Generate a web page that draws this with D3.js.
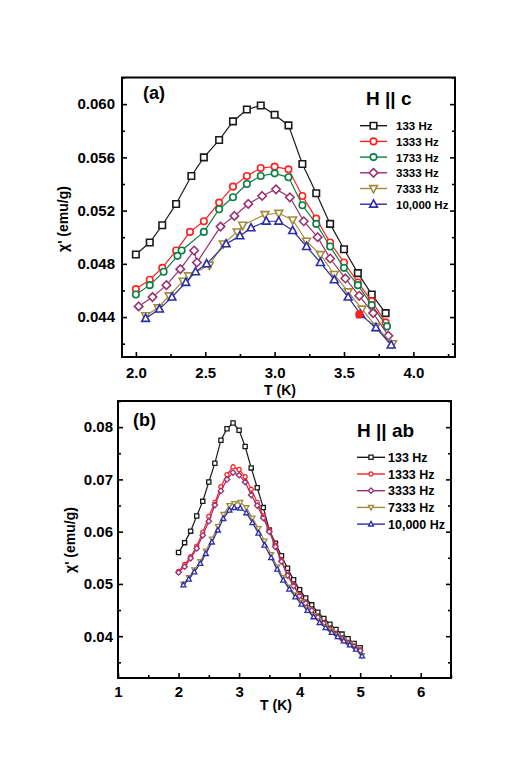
<!DOCTYPE html>
<html><head><meta charset="utf-8">
<script src="https://cdn.jsdelivr.net/npm/d3@7"></script>
<style>body{margin:0;background:#fff}svg text{font-family:"Liberation Sans",Arial,sans-serif;font-weight:bold;fill:#000}</style>
</head><body>
<svg id="c" width="529" height="769"></svg>
<script>
// ---------- Panel (a): H || c ----------
const aT133   = [2.0,2.1,2.19,2.29,2.4,2.49,2.6,2.7,2.8,2.9,3.0,3.1,3.2,3.3,3.4,3.5,3.6,3.7,3.8];
const aX133   = [0.0487,0.0496,0.0509,0.0525,0.0546,0.0560,0.0573,0.0587,0.0596,0.0599,0.0592,0.0584,0.0555,0.0533,0.0510,0.0491,0.0473,0.0457,0.0443];
const aT1333  = [2.0,2.1,2.19,2.29,2.39,2.49,2.6,2.7,2.8,2.9,3.0,3.1,3.2,3.3,3.4,3.5,3.6,3.7,3.8];
const aX1333  = [0.0461,0.0468,0.0477,0.0490,0.0504,0.0512,0.0526,0.0538,0.0546,0.0552,0.0553,0.0551,0.0531,0.0514,0.0496,0.0481,0.0466,0.0452,0.0436];
const aStrayT = [3.61];
const aStrayX = [0.0442];
const aT1733  = [2.0,2.1,2.2,2.3,2.33,2.49,2.6,2.7,2.8,2.9,3.0,3.1,3.2,3.3,3.4,3.5,3.6,3.7,3.81];
const aX1733  = [0.0457,0.0464,0.0474,0.0486,0.0490,0.0504,0.0521,0.0530,0.0540,0.0546,0.0548,0.0545,0.0524,0.0510,0.0493,0.0477,0.0464,0.0449,0.0433];
const aT3333  = [2.02,2.12,2.22,2.32,2.42,2.44,2.61,2.71,2.81,2.91,3.01,3.11,3.21,3.31,3.40,3.51,3.61,3.71,3.82];
const aX3333  = [0.0448,0.0455,0.0464,0.0476,0.0490,0.0481,0.0508,0.0516,0.0525,0.0531,0.0536,0.0530,0.0512,0.0500,0.0484,0.0469,0.0456,0.0443,0.0426];
const aT7333  = [2.07,2.16,2.24,2.34,2.38,2.53,2.63,2.73,2.77,2.93,3.03,3.13,3.23,3.33,3.43,3.53,3.63,3.73,3.85];
const aX7333  = [0.0441,0.0447,0.0456,0.0467,0.0471,0.0479,0.0495,0.0504,0.0509,0.0517,0.0518,0.0513,0.0497,0.0487,0.0472,0.0459,0.0446,0.0433,0.0420];
const aT10000 = [2.07,2.17,2.26,2.36,2.43,2.51,2.65,2.75,2.83,2.94,3.03,3.13,3.23,3.33,3.43,3.53,3.62,3.73,3.84];
const aX10000 = [0.0439,0.0446,0.0455,0.0466,0.0474,0.0480,0.0495,0.0501,0.0507,0.0512,0.0512,0.0505,0.0493,0.0481,0.0468,0.0455,0.0442,0.0432,0.0419];
const aXTicks = [2.0,2.5,3.0,3.5,4.0];
const aYTicks = [0.044,0.048,0.052,0.056,0.060];

// ---------- Panel (b): H || ab ----------
const bT      = [2.0,2.1,2.2,2.3,2.4,2.5,2.6,2.7,2.8,2.9,3.0,3.1,3.2,3.3,3.4,3.5,3.6,3.7,3.8,3.9,4.0,4.1,4.2,4.3,4.4,4.5,4.6,4.7,4.8,4.9,5.0];
const bX133   = [0.0560,0.0579,0.0601,0.0630,0.0658,0.0695,0.0731,0.0775,0.0797,0.0808,0.0794,0.0763,0.0722,0.0684,0.0646,0.0603,0.0578,0.0554,0.0530,0.0508,0.0489,0.0473,0.0460,0.0446,0.0434,0.0423,0.0413,0.0404,0.0395,0.0386,0.0378];
const bX1333  = [0.0524,0.0537,0.0552,0.0572,0.0599,0.0629,0.0656,0.0686,0.0709,0.0724,0.0719,0.0705,0.0681,0.0656,0.0630,0.0603,0.0574,0.0545,0.0518,0.0498,0.0479,0.0464,0.0450,0.0437,0.0425,0.0414,0.0405,0.0396,0.0388,0.0381,0.0374];
const bX3333  = [0.0522,0.0533,0.0549,0.0568,0.0593,0.0620,0.0651,0.0678,0.0700,0.0713,0.0708,0.0695,0.0670,0.0650,0.0626,0.0600,0.0571,0.0543,0.0516,0.0496,0.0477,0.0463,0.0449,0.0436,0.0424,0.0413,0.0404,0.0395,0.0387,0.0380,0.0372];
const bT2     = [2.08,2.17,2.26,2.36,2.45,2.55,2.65,2.74,2.84,2.92,3.02,3.12,3.22,3.32,3.42,3.53,3.63,3.73,3.83,3.93,4.03,4.13,4.23,4.33,4.43,4.53,4.63,4.73,4.83,4.93,5.03];
const bX7333  = [0.0500,0.0512,0.0527,0.0543,0.0563,0.0586,0.0610,0.0633,0.0650,0.0654,0.0656,0.0646,0.0626,0.0606,0.0582,0.0556,0.0533,0.0512,0.0494,0.0479,0.0465,0.0452,0.0440,0.0429,0.0419,0.0410,0.0401,0.0393,0.0385,0.0377,0.0363];
const bX10000 = [0.0498,0.0509,0.0523,0.0539,0.0558,0.0580,0.0603,0.0625,0.0641,0.0646,0.0645,0.0636,0.0617,0.0597,0.0574,0.0550,0.0528,0.0507,0.0490,0.0475,0.0461,0.0449,0.0437,0.0426,0.0416,0.0407,0.0399,0.0391,0.0383,0.0375,0.0362];
const bXTicks = [1,2,3,4,5,6];
const bYTicks = [0.04,0.05,0.06,0.07,0.08];

const C = {k:"#1a1a1a", r:"#ff2020", g:"#0b8043", p:"#9a3070", o:"#a08c3a", b:"#2c2ca8"};
const svg = d3.select("#c");

function zip(t, v){ return t.map((d,i)=>({t:d, v:v[i]})); }

function markerPath(shape, s){
  const h = s/2;
  if(shape==="square") return `M${-h},${-h}H${h}V${h}H${-h}Z`;
  if(shape==="circle") return d3.symbol(d3.symbolCircle, Math.PI*h*h)();
  if(shape==="diamond"){ const d=h*1.3; return `M0,${-d}L${d},0L0,${d}L${-d},0Z`; }
  if(shape==="up"){ const d=h*1.2; return `M0,${-d*1.1}L${d},${d*0.75}L${-d},${d*0.75}Z`; }
  if(shape==="down"){ const d=h*1.2; return `M0,${d*1.1}L${d},${-d*0.75}L${-d},${-d*0.75}Z`; }
}

function panel(cfg){
  const g = svg.append("g");
  const x = d3.scaleLinear().domain(cfg.xd).range(cfg.xr);
  const y = d3.scaleLinear().domain(cfg.yd).range(cfg.yr);
  const [x0,x1] = cfg.xr, [y0,y1] = [cfg.yr[1], cfg.yr[0]];
  g.append("g").attr("transform",`translate(0,${cfg.yr[0]})`)
    .call(d3.axisBottom(x).tickValues(cfg.xt).tickSize(-5).tickPadding(cfg.xpad).tickFormat(cfg.xf));
  g.append("g").attr("transform",`translate(0,${cfg.yr[0]})`)
    .call(d3.axisBottom(x).tickValues(cfg.xm).tickSize(-3).tickFormat(""));
  g.append("g").attr("transform",`translate(${x0},0)`)
    .call(d3.axisLeft(y).tickValues(cfg.yt).tickSize(-5).tickPadding(cfg.ypad).tickFormat(cfg.yf));
  g.append("g").attr("transform",`translate(${x0},0)`)
    .call(d3.axisLeft(y).tickValues(cfg.ym).tickSize(-3).tickFormat(""));
  g.append("g").attr("transform",`translate(${x1},0)`)
    .call(d3.axisRight(y).tickValues(cfg.yt).tickSize(-5).tickFormat(""));
  g.append("g").attr("transform",`translate(${x1},0)`)
    .call(d3.axisRight(y).tickValues(cfg.ym).tickSize(-3).tickFormat(""));
  g.selectAll(".domain").remove();
  g.selectAll(".tick line").attr("stroke","#000").attr("stroke-width",1.6);
  g.selectAll(".tick text").attr("font-size",15).attr("font-family",'"Liberation Sans",Arial,sans-serif').attr("font-weight","bold").attr("fill","#000");
  g.append("rect").attr("x",x0).attr("y",y0).attr("width",x1-x0).attr("height",y1-y0)
    .attr("fill","none").attr("stroke","#000").attr("stroke-width",2);

  const line = d3.line().x(d=>x(d.t)).y(d=>y(d.v));
  cfg.series.forEach(s=>{
    const data = zip(s.t, s.v);
    if(!s.noLine) g.append("path").datum(data).attr("d",line).attr("fill","none")
      .attr("stroke",s.c).attr("stroke-width",1.2);
    g.selectAll(null).data(data).enter().append("path")
      .attr("transform",d=>`translate(${x(d.t)},${y(d.v)})`)
      .attr("d",markerPath(s.m, cfg.ms))
      .attr("fill", s.fill || "#fff").attr("stroke",s.c).attr("stroke-width",cfg.mw);
  });

  cfg.series.filter(s=>s.label).forEach((s,i)=>{
    const yy = cfg.lg.y + i*cfg.lg.dy;
    g.append("line").attr("x1",cfg.lg.x1).attr("x2",cfg.lg.x2).attr("y1",yy).attr("y2",yy)
      .attr("stroke",s.c).attr("stroke-width",1.4);
    g.append("path").attr("transform",`translate(${(cfg.lg.x1+cfg.lg.x2)/2},${yy})`)
      .attr("d",markerPath(s.m, cfg.ms)).attr("fill","#fff").attr("stroke",s.c).attr("stroke-width",cfg.mw);
    g.append("text").attr("x",cfg.lg.tx).attr("y",yy+4.5).attr("font-size",cfg.lg.fs).text(s.label);
  });
  g.append("text").attr("x",cfg.tag.x).attr("y",cfg.tag.y).attr("font-size",18).text(cfg.tag.t);
  g.append("text").attr("x",cfg.hd.x).attr("y",cfg.hd.y).attr("font-size",19).text(cfg.hd.t);
  g.append("text").attr("x",cfg.xl.x).attr("y",cfg.xl.y).attr("text-anchor","middle").attr("font-size",14).text("T (K)");
  g.append("text").attr("transform",`translate(${cfg.yl.x},${cfg.yl.y}) rotate(-90)`)
    .attr("text-anchor","middle").attr("font-size",14).text("\u03C7' (emu/g)");
}

panel({
  xd:[1.9,4.3], xr:[122,455], yd:[0.041,0.062], yr:[357,77.5],
  xt:aXTicks, xm:[2.25,2.75,3.25,3.75,4.25], yt:aYTicks, ym:[0.042,0.046,0.050,0.054,0.058,0.062],
  xf:d3.format(".1f"), yf:d3.format(".3f"), xpad:10, ypad:7, ms:6.5, mw:1.6,
  series:[
    {t:aT133, v:aX133, c:C.k, m:"square", label:"133 Hz"},
    {t:aT1333, v:aX1333, c:C.r, m:"circle", label:"1333 Hz"},
    {t:aT1733, v:aX1733, c:C.g, m:"circle", label:"1733 Hz"},
    {t:aT3333, v:aX3333, c:C.p, m:"diamond", label:"3333 Hz"},
    {t:aT7333, v:aX7333, c:C.o, m:"down", label:"7333 Hz"},
    {t:aT10000, v:aX10000, c:C.b, m:"up", label:"10,000 Hz"},
    {t:aStrayT, v:aStrayX, c:C.r, m:"circle", noLine:true, fill:C.r}
  ],
  lg:{x1:360, x2:387, tx:396, y:125.7, dy:15.7, fs:11.5},
  tag:{x:143, y:99, t:"(a)"}, hd:{x:366, y:104.5, t:"H || c"},
  xl:{x:280, y:395}, yl:{x:68, y:219}
});

panel({
  xd:[1,6.5], xr:[118,451], yd:[0.032,0.085], yr:[678,401],
  xt:bXTicks, xm:[1.5,2.5,3.5,4.5,5.5,6.5], yt:bYTicks, ym:[0.035,0.045,0.055,0.065,0.075,0.085],
  xf:d3.format("d"), yf:d3.format(".2f"), xpad:8, ypad:5, ms:4.2, mw:1.3,
  series:[
    {t:bT, v:bX133, c:C.k, m:"square", label:"133 Hz"},
    {t:bT, v:bX1333, c:C.r, m:"circle", label:"1333 Hz"},
    {t:bT, v:bX3333, c:C.p, m:"diamond", label:"3333 Hz"},
    {t:bT2, v:bX7333, c:C.o, m:"down", label:"7333 Hz"},
    {t:bT2, v:bX10000, c:C.b, m:"up", label:"10,000 Hz"}
  ],
  lg:{x1:357, x2:385, tx:388, y:457.3, dy:16.7, fs:12.5},
  tag:{x:133, y:426, t:"(b)"}, hd:{x:357, y:436.5, t:"H || ab"},
  xl:{x:276, y:710}, yl:{x:75, y:540}
});
</script></body></html>
